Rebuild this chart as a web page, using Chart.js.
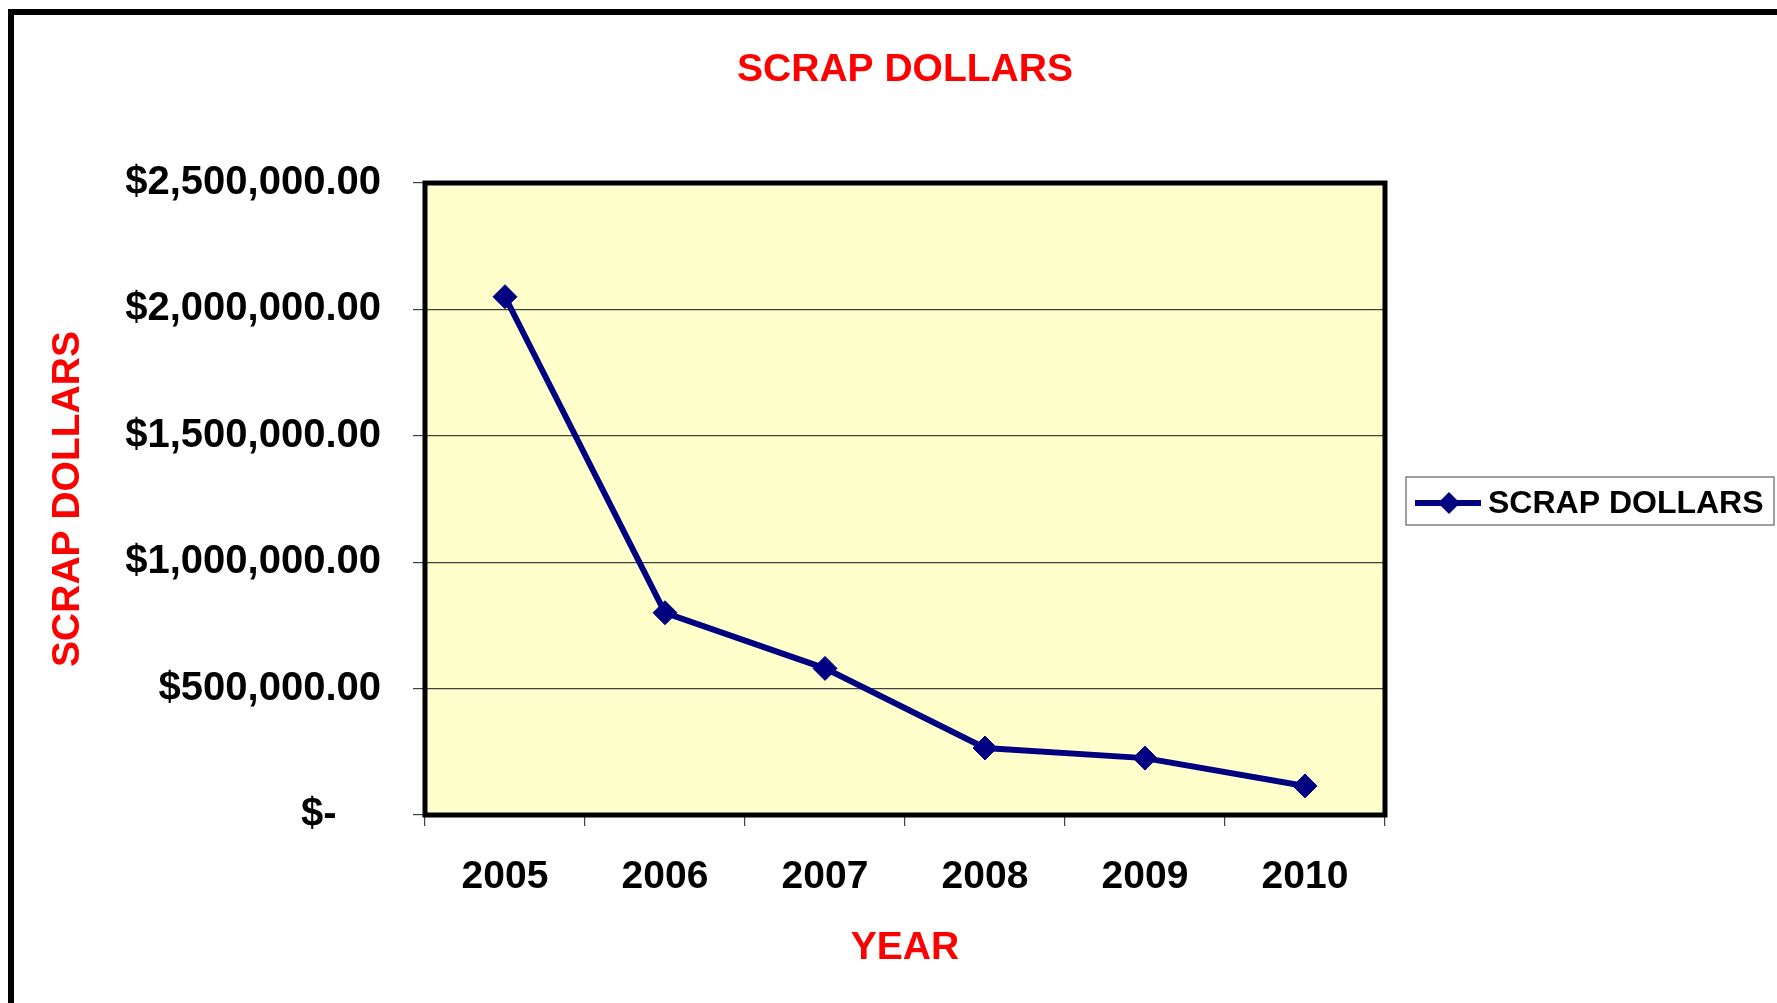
<!DOCTYPE html>
<html>
<head>
<meta charset="utf-8">
<title>Scrap Dollars</title>
<script src="https://cdn.jsdelivr.net/npm/chart.js@4.4.1/dist/chart.umd.min.js"></script>
<style>
  html, body { margin: 0; padding: 0; background: #fff; overflow: hidden; }
  #wrap { position: relative; width: 1777px; height: 1003px; }
</style>
</head>
<body>
<div id="wrap"><canvas id="scrapChart"></canvas></div>
<script>
// Data
const years = ['2005', '2006', '2007', '2008', '2009', '2010'];
const scrapDollars = [2050000, 800000, 580000, 265000, 225000, 115000];
const seriesName = 'SCRAP DOLLARS';

const FONT = '"Liberation Sans", Arial, Helvetica, sans-serif';
const NAVY = '#000080';

// Money format like Excel accounting: $2,500,000.00 and "$-" for zero
function money(v) {
  if (v === 0) return '$-    ';
  return '$' + Number(v).toLocaleString('en-US', { minimumFractionDigits: 2, maximumFractionDigits: 2 });
}

// Background, plot fill, plot frame and outer frame
const framePlugin = {
  id: 'frames',
  beforeDraw(chart) {
    const { ctx, chartArea: a } = chart;
    ctx.save();
    ctx.fillStyle = '#fff';
    ctx.fillRect(0, 0, chart.width, chart.height);
    ctx.fillStyle = '#FFFFCC';
    ctx.fillRect(a.left, a.top, a.right - a.left, a.bottom - a.top);
    ctx.restore();
  },
  beforeDatasetsDraw(chart) {
    const { ctx, chartArea: a } = chart;
    ctx.save();
    ctx.strokeStyle = '#000';
    ctx.lineWidth = 5;
    ctx.strokeRect(a.left, a.top, a.right - a.left, a.bottom - a.top);
    ctx.restore();
  },
  afterDraw(chart) {
    const ctx = chart.ctx;
    ctx.save();
    ctx.fillStyle = '#000';
    ctx.fillRect(8, 9, chart.width, 6);
    ctx.fillRect(8, 9, 6, chart.height);
    ctx.restore();
  }
};

// Legend box on the right, line + diamond like the series
const legendPlugin = {
  id: 'sideLegend',
  afterDraw(chart) {
    const ctx = chart.ctx;
    const ds = chart.data.datasets[0];
    const box = { x: 1406, y: 477, w: 368, h: 48 };
    const cy = box.y + 26;
    ctx.save();
    ctx.fillStyle = '#fff';
    ctx.fillRect(box.x, box.y, box.w, box.h);
    ctx.strokeStyle = '#808080';
    ctx.lineWidth = 1.5;
    ctx.strokeRect(box.x, box.y, box.w, box.h);

    ctx.strokeStyle = ds.borderColor;
    ctx.lineWidth = ds.borderWidth;
    ctx.beginPath();
    ctx.moveTo(box.x + 9, cy);
    ctx.lineTo(box.x + 75, cy);
    ctx.stroke();

    const mx = box.x + 43, r = 11;
    ctx.fillStyle = ds.pointBackgroundColor;
    ctx.beginPath();
    ctx.moveTo(mx - r, cy);
    ctx.lineTo(mx, cy - r);
    ctx.lineTo(mx + r, cy);
    ctx.lineTo(mx, cy + r);
    ctx.closePath();
    ctx.fill();

    ctx.fillStyle = '#000';
    ctx.font = 'bold 32px ' + FONT;
    ctx.textAlign = 'left';
    ctx.textBaseline = 'middle';
    ctx.fillText(ds.label, box.x + 82, cy + 1);
    ctx.restore();
  }
};

const ctx = document.getElementById('scrapChart').getContext('2d');

const scrapChart = new Chart(ctx, {
  type: 'line',
  data: {
    labels: years,
    datasets: [{
      label: seriesName,
      data: scrapDollars,
      borderColor: NAVY,
      backgroundColor: NAVY,
      borderWidth: 6,
      pointStyle: 'rectRot',
      pointRadius: 12,
      pointBackgroundColor: NAVY,
      pointBorderColor: NAVY,
      pointBorderWidth: 1,
      tension: 0,
      fill: false
    }]
  },
  options: {
    responsive: true,
    maintainAspectRatio: false,
    animation: false,
    layout: { padding: { left: 0, right: 392, top: 0, bottom: 0 } },
    plugins: {
      legend: { display: false },
      tooltip: { enabled: false },
      title: {
        display: true,
        text: 'SCRAP DOLLARS',
        color: '#FF0000',
        fullSize: false,
        font: { family: FONT, size: 39, weight: 'bold', lineHeight: 1.2 },
        padding: { top: 46.6, bottom: 89.6 }
      }
    },
    scales: {
      x: {
        offset: true,
        grid: {
          offset: true,
          drawOnChartArea: false,
          drawTicks: true,
          tickLength: 11,
          color: '#404040',
          lineWidth: 1.2
        },
        border: { display: false },
        ticks: {
          color: '#000',
          padding: 28,
          autoSkip: false,
          maxRotation: 0,
          font: { family: FONT, size: 39, weight: 'bold', lineHeight: 1.2 }
        },
        title: {
          display: true,
          text: 'YEAR',
          color: '#FF0000',
          font: { family: FONT, size: 39, weight: 'bold', lineHeight: 1.2 },
          padding: { top: 0, bottom: 31.6 }
        },
        afterFit(scale) { scale.height = 188; }
      },
      y: {
        min: 0,
        max: 2500000,
        grid: {
          drawTicks: true,
          tickLength: 12,
          color: '#404040',
          lineWidth: 1.2
        },
        border: { display: false },
        ticks: {
          stepSize: 500000,
          color: '#000',
          padding: 32,
          font: { family: FONT, size: 40, weight: 'bold', lineHeight: 1.2 },
          callback: value => money(value)
        },
        title: {
          display: true,
          text: 'SCRAP DOLLARS',
          color: '#FF0000',
          font: { family: FONT, size: 39, weight: 'bold', lineHeight: 1.2 },
          padding: { top: 44.6, bottom: 0 }
        },
        afterFit(scale) { scale.width = 425; }
      }
    }
  },
  plugins: [framePlugin, legendPlugin]
});
</script>
</body>
</html>
